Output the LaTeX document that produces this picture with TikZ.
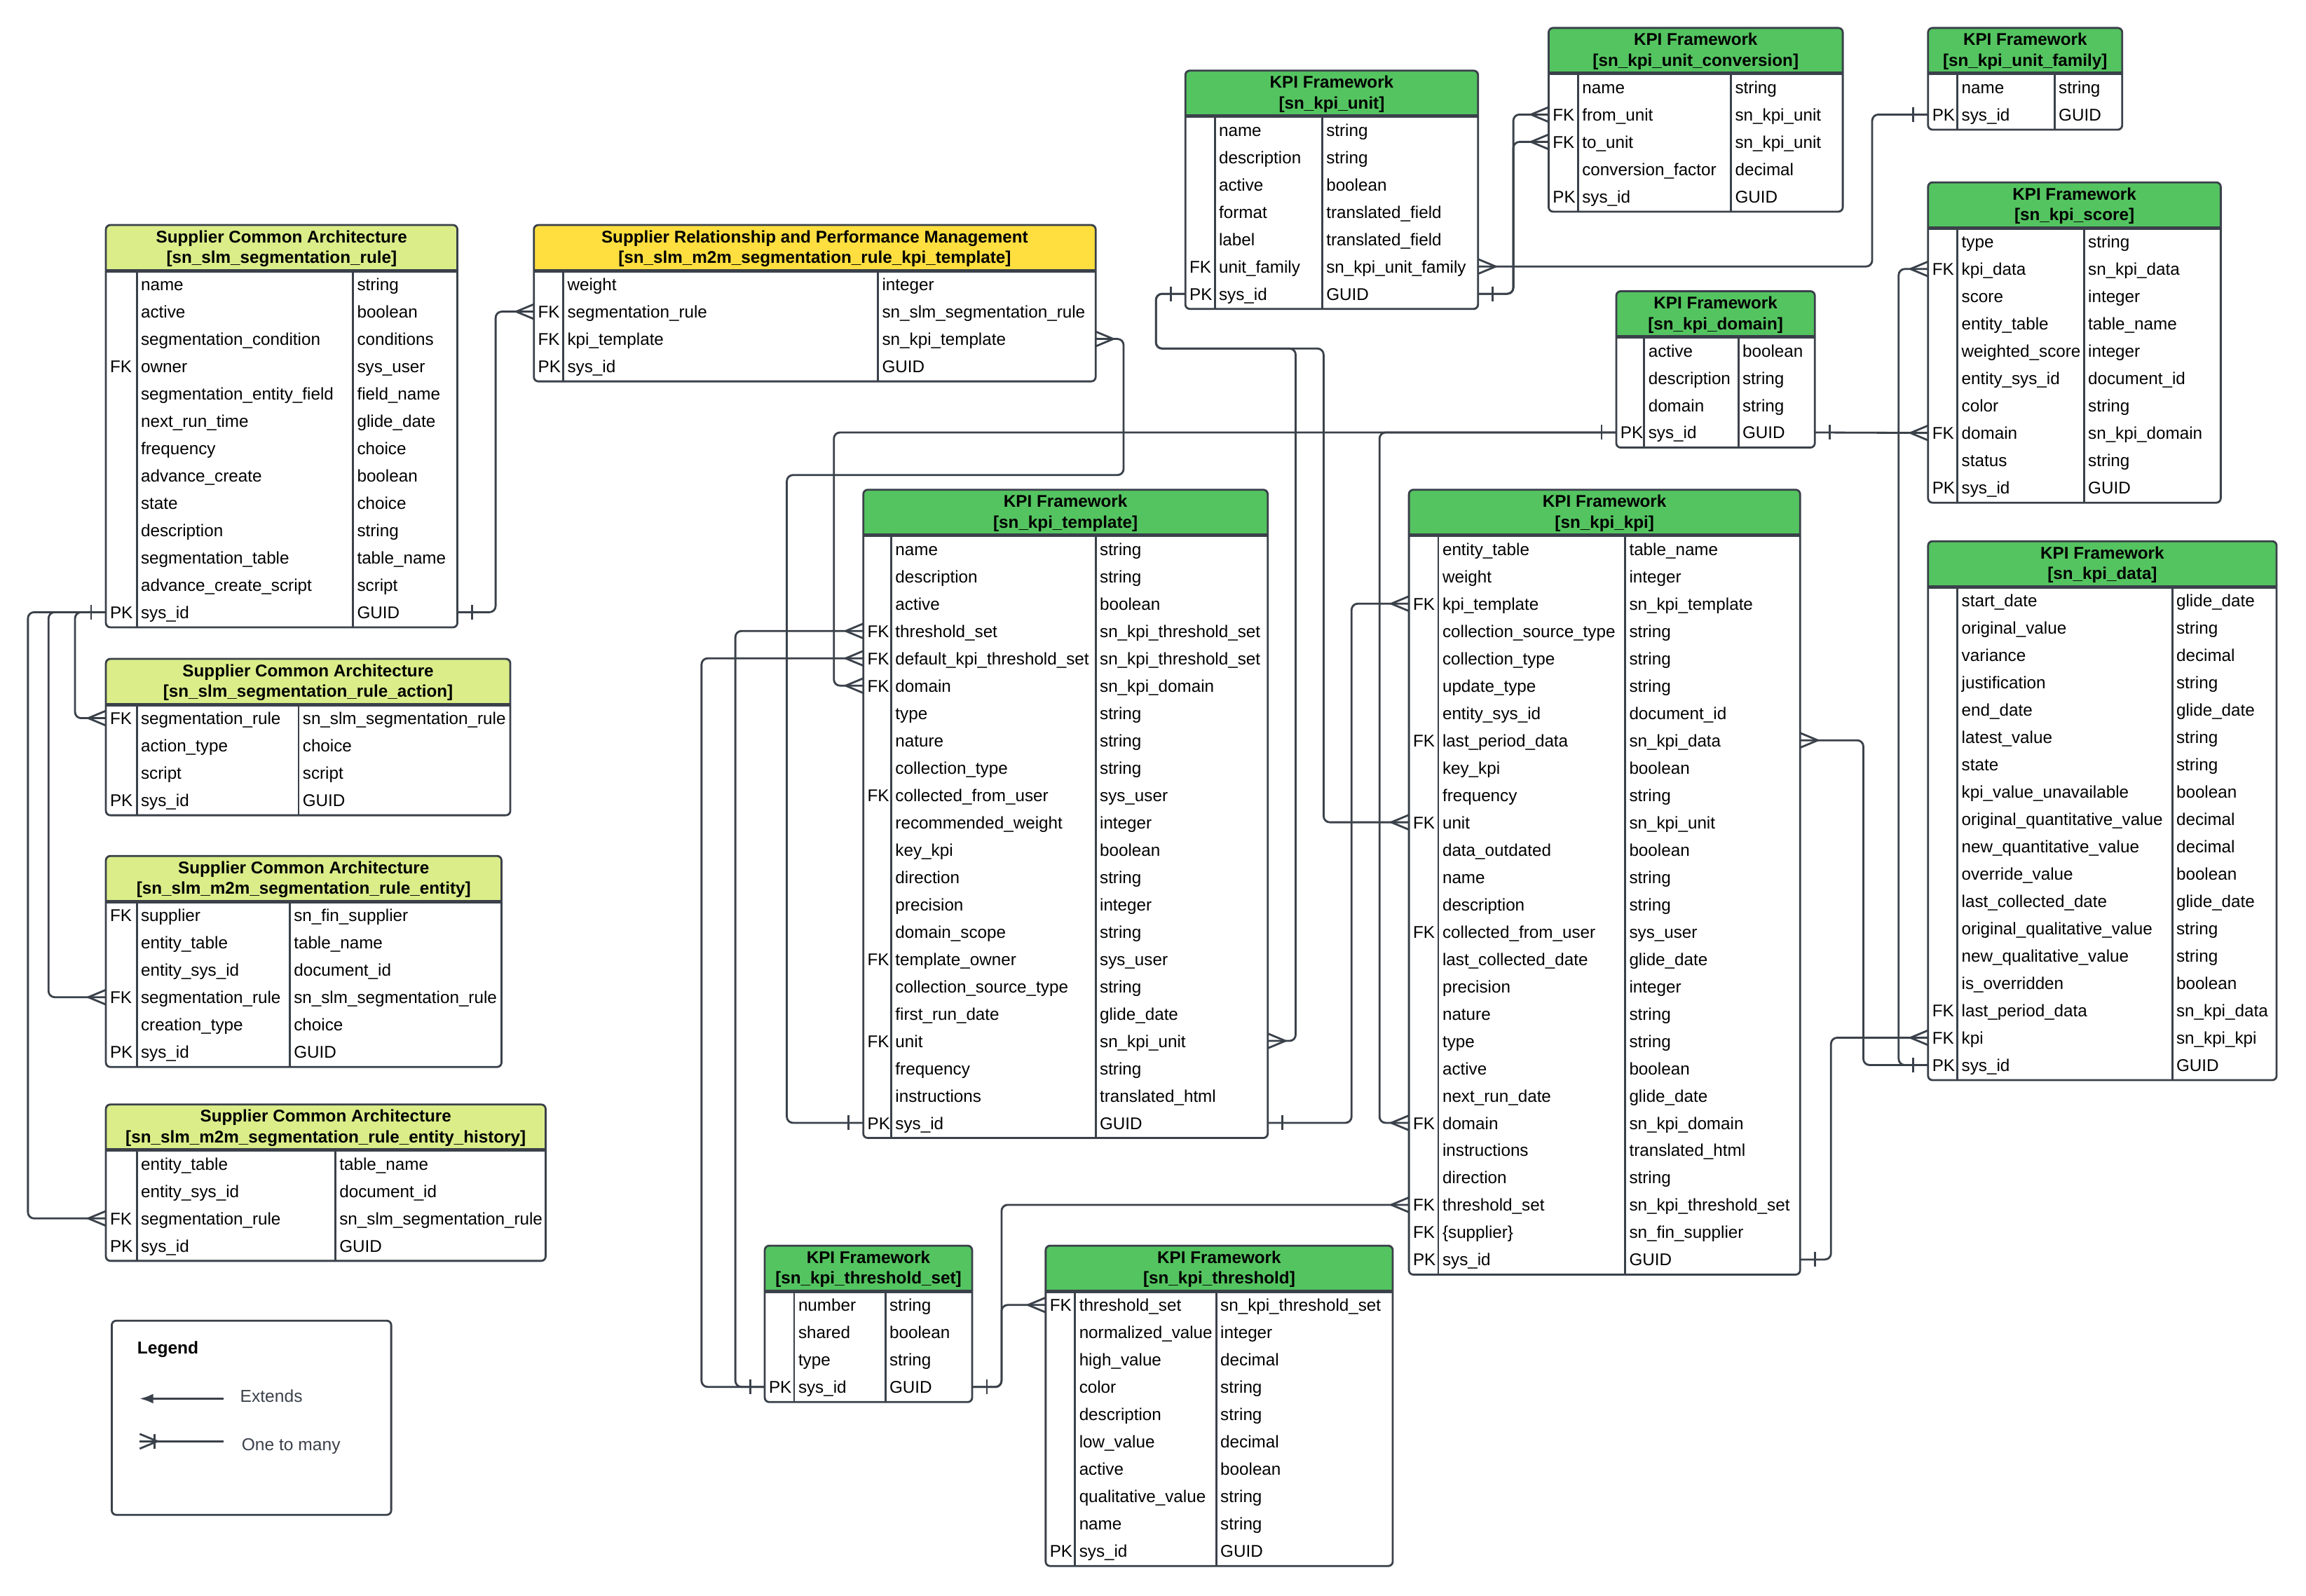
\documentclass[tikz,border=0pt]{standalone}
\usepackage{fontspec}
\setmainfont{Liberation Sans}
\usepackage{tikz}
\usetikzlibrary{arrows.meta, positioning, calc}
\definecolor{mygreen}{RGB}{84,196,96}
\definecolor{mylime}{RGB}{219,237,137}
\definecolor{myyellow}{RGB}{255,223,64}
\definecolor{mydark}{RGB}{58,65,74}
\tikzset{
  tabline/.style={draw=mydark, line width=0.8pt},
  conn/.style={draw=mydark, line width=0.8pt, rounded corners=2.5pt},
  tipline/.style={draw=mydark, line width=0.8pt},
  celltxt/.style={anchor=base west, inner sep=0pt, font=\fontsize{6.9pt}{8.4pt}\selectfont},
  hdrtxt/.style={align=center, inner sep=0pt, font=\fontsize{6.9pt}{8.4pt}\selectfont\bfseries},
  legtxt/.style={anchor=base west, inner sep=0pt, text=mydark, font=\fontsize{7pt}{8.4pt}\selectfont},
  one west/.pic={\draw[tipline] (-10,-5) -- (-10,5);},
  one east/.pic={\draw[tipline] (10,-5) -- (10,5);},
  many west/.pic={\draw[tipline] (0,-5) -- (-12,0) -- (0,5);},
  many east/.pic={\draw[tipline] (0,-5) -- (12,0) -- (0,5);}
}
\newcommand{\kpihdr}[1]{KPI Framework\\{}[#1]}
\newcommand{\scahdr}[1]{Supplier Common Architecture\\{}[#1]}
% #1 name, #2 left, #3 top, #4 right, #5 key rule, #6 type rule, #7 header colour, #8 title, #9 rows
\newcommand{\ertable}[9]{%
  \foreach \keyv/\fieldv/\typev [count=\i] in {#9}{\xdef\ernrows{\i}}
  \pgfmathsetmacro{\erbot}{#3+31+18.58*\ernrows+1}
  \fill[white, rounded corners=1.8pt] (#2,#3) rectangle (#4,\erbot);
  \fill[#7, rounded corners=1.8pt] (#2,#3) rectangle (#4,{#3+31});
  \node[hdrtxt] (#1-hdr) at ({(#2+#4)/2},{#3+16}) {#8};
  \foreach \keyv/\fieldv/\typev [count=\i] in {#9}{
    \pgfmathsetmacro{\ery}{#3+40.3+18.58*(\i-1)}
    \coordinate (#1-\i-w) at (#2,\ery);
    \coordinate (#1-\i-e) at (#4,\ery);
    \node[celltxt] (#1-\i-key) at (#2+2.5,\ery+4.3) {\keyv};
    \node[celltxt] (#1-\i-name) at (#5+2.5,\ery+4.3) {\fieldv};
    \node[celltxt] (#1-\i-type) at (#6+2.5,\ery+4.3) {\typev};
  }
  \draw[tabline] (#5,{#3+31}) -- (#5,\erbot) (#6,{#3+31}) -- (#6,\erbot);
  \draw[tabline, line width=1.4pt] (#2,{#3+31}) -- (#4,{#3+31});
  \draw[tabline, rounded corners=1.8pt] (#2,#3) rectangle (#4,\erbot);
}

\begin{document}
\begin{tikzpicture}[x=0.021cm, y=-0.021cm]
  \useasboundingbox (0,0) rectangle (1568,1085);

  % supplier side
  \ertable{segrule}{72}{153}{311}{93}{240}{mylime}{\scahdr{sn\_slm\_segmentation\_rule}}{
    /name/string, /active/boolean, /segmentation\_condition/conditions,
    FK/owner/sys\_user, /segmentation\_entity\_field/field\_name,
    /next\_run\_time/glide\_date, /frequency/choice, /advance\_create/boolean,
    /state/choice, /description/string, /segmentation\_table/table\_name,
    /advance\_create\_script/script, PK/sys\_id/GUID}
  \ertable{srkpi}{363}{153}{745}{383}{597}{myyellow}{Supplier Relationship and Performance Management\\{}[sn\_slm\_m2m\_segmentation\_rule\_kpi\_template]}{
    /weight/integer, FK/segmentation\_rule/sn\_slm\_segmentation\_rule,
    FK/kpi\_template/sn\_kpi\_template, PK/sys\_id/GUID}
  \ertable{ruleact}{72}{448}{347}{93}{203}{mylime}{\scahdr{sn\_slm\_segmentation\_rule\_action}}{
    FK/segmentation\_rule/sn\_slm\_segmentation\_rule, /action\_type/choice,
    /script/script, PK/sys\_id/GUID}
  \ertable{ruleent}{72}{582}{341}{93}{197}{mylime}{\scahdr{sn\_slm\_m2m\_segmentation\_rule\_entity}}{
    FK/supplier/sn\_fin\_supplier, /entity\_table/table\_name,
    /entity\_sys\_id/document\_id, FK/segmentation\_rule/sn\_slm\_segmentation\_rule,
    /creation\_type/choice, PK/sys\_id/GUID}
  \ertable{enthist}{72}{751}{371}{93}{228}{mylime}{\scahdr{sn\_slm\_m2m\_segmentation\_rule\_entity\_history}}{
    /entity\_table/table\_name, /entity\_sys\_id/document\_id,
    FK/segmentation\_rule/sn\_slm\_segmentation\_rule, PK/sys\_id/GUID}

  % kpi framework
  \ertable{unit}{806}{48}{1005}{826}{899}{mygreen}{\kpihdr{sn\_kpi\_unit}}{
    /name/string, /description/string, /active/boolean, /format/translated\_field,
    /label/translated\_field, FK/unit\_family/sn\_kpi\_unit\_family, PK/sys\_id/GUID}
  \ertable{unitconv}{1053}{19}{1253}{1073}{1177}{mygreen}{\kpihdr{sn\_kpi\_unit\_conversion}}{
    /name/string, FK/from\_unit/sn\_kpi\_unit, FK/to\_unit/sn\_kpi\_unit,
    /conversion\_factor/decimal, PK/sys\_id/GUID}
  \ertable{unitfam}{1311}{19}{1443}{1331}{1397}{mygreen}{\kpihdr{sn\_kpi\_unit\_family}}{
    /name/string, PK/sys\_id/GUID}
  \ertable{score}{1311}{124}{1510}{1331}{1417}{mygreen}{\kpihdr{sn\_kpi\_score}}{
    /type/string, FK/kpi\_data/sn\_kpi\_data, /score/integer, /entity\_table/table\_name,
    /weighted\_score/integer, /entity\_sys\_id/document\_id, /color/string,
    FK/domain/sn\_kpi\_domain, /status/string, PK/sys\_id/GUID}
  \ertable{domain}{1099}{198}{1234}{1118}{1182}{mygreen}{\kpihdr{sn\_kpi\_domain}}{
    /active/boolean, /description/string, /domain/string, PK/sys\_id/GUID}
  \ertable{tmpl}{587}{333}{862}{606}{745}{mygreen}{\kpihdr{sn\_kpi\_template}}{
    /name/string, /description/string, /active/boolean,
    FK/threshold\_set/sn\_kpi\_threshold\_set,
    FK/default\_kpi\_threshold\_set/sn\_kpi\_threshold\_set,
    FK/domain/sn\_kpi\_domain, /type/string, /nature/string, /collection\_type/string,
    FK/collected\_from\_user/sys\_user, /recommended\_weight/integer, /key\_kpi/boolean,
    /direction/string, /precision/integer, /domain\_scope/string,
    FK/template\_owner/sys\_user, /collection\_source\_type/string,
    /first\_run\_date/glide\_date, FK/unit/sn\_kpi\_unit, /frequency/string,
    /instructions/translated\_html, PK/sys\_id/GUID}
  \ertable{kpi}{958}{333}{1224}{978}{1105}{mygreen}{\kpihdr{sn\_kpi\_kpi}}{
    /entity\_table/table\_name, /weight/integer, FK/kpi\_template/sn\_kpi\_template,
    /collection\_source\_type/string, /collection\_type/string, /update\_type/string,
    /entity\_sys\_id/document\_id, FK/last\_period\_data/sn\_kpi\_data, /key\_kpi/boolean,
    /frequency/string, FK/unit/sn\_kpi\_unit, /data\_outdated/boolean, /name/string,
    /description/string, FK/collected\_from\_user/sys\_user,
    /last\_collected\_date/glide\_date, /precision/integer, /nature/string, /type/string,
    /active/boolean, /next\_run\_date/glide\_date, FK/domain/sn\_kpi\_domain,
    /instructions/translated\_html, /direction/string,
    FK/threshold\_set/sn\_kpi\_threshold\_set, FK/\{supplier\}/sn\_fin\_supplier,
    PK/sys\_id/GUID}
  \ertable{kdata}{1311}{368}{1548}{1331}{1477}{mygreen}{\kpihdr{sn\_kpi\_data}}{
    /start\_date/glide\_date, /original\_value/string, /variance/decimal,
    /justification/string, /end\_date/glide\_date, /latest\_value/string, /state/string,
    /kpi\_value\_unavailable/boolean, /original\_quantitative\_value/decimal,
    /new\_quantitative\_value/decimal, /override\_value/boolean,
    /last\_collected\_date/glide\_date, /original\_qualitative\_value/string,
    /new\_qualitative\_value/string, /is\_overridden/boolean,
    FK/last\_period\_data/sn\_kpi\_data, FK/kpi/sn\_kpi\_kpi, PK/sys\_id/GUID}
  \ertable{thset}{520}{847}{661}{540}{602}{mygreen}{\kpihdr{sn\_kpi\_threshold\_set}}{
    /number/string, /shared/boolean, /type/string, PK/sys\_id/GUID}
  \ertable{thr}{711}{847}{947}{731}{827}{mygreen}{\kpihdr{sn\_kpi\_threshold}}{
    FK/threshold\_set/sn\_kpi\_threshold\_set, /normalized\_value/integer,
    /high\_value/decimal, /color/string, /description/string, /low\_value/decimal,
    /active/boolean, /qualitative\_value/string, /name/string, PK/sys\_id/GUID}

  % relations
  \draw[conn] (segrule-13-e) -- ++(26,0) |- (srkpi-2-w);
  \draw[conn] (segrule-13-w) -- ++(-21,0) |- (ruleact-1-w);
  \draw[conn] (segrule-13-w) -- ++(-39,0) |- (ruleent-4-w);
  \draw[conn] (segrule-13-w) -- ++(-53,0) |- (enthist-3-w);
  \draw[conn] (srkpi-3-e) -| (764,323) -| ($(tmpl-22-w)+(-52,0)$) -- (tmpl-22-w);
  \draw[conn] (tmpl-22-e) -- ++(57,0) |- (kpi-3-w);
  \draw[conn] (unit-7-w) -| (786,237) -| ($(tmpl-19-e)+(19,0)$) -- (tmpl-19-e);
  \draw[conn] (unit-7-w) -| (786,237) -| ($(kpi-11-w)+(-58,0)$) -- (kpi-11-w);
  \draw[conn] (unit-7-e) -- ++(24,0) |- (unitconv-2-w);
  \draw[conn] (unit-7-e) -- ++(24,0) |- (unitconv-3-w);
  \draw[conn] (unit-6-e) -- ++(268,0) |- (unitfam-2-w);
  \draw[conn] (domain-4-w) -| ($(tmpl-6-w)+(-20,0)$) -- (tmpl-6-w);
  \draw[conn] (domain-4-w) -| ($(kpi-22-w)+(-20,0)$) -- (kpi-22-w);
  \draw[conn] (domain-4-e) -- (score-8-w);
  \draw[conn] (thset-4-w) -- ++(-20,0) |- (tmpl-4-w);
  \draw[conn] (thset-4-w) -- ++(-43,0) |- (tmpl-5-w);
  \draw[conn] (thset-4-e) -- ++(20,0) |- (thr-1-w);
  \draw[conn] (thset-4-e) -- ++(20,0) |- (kpi-25-w);
  \draw[conn] (kdata-18-w) -- ++(-44,0) |- (kpi-8-e);
  \draw[conn] (kdata-18-w) -- ++(-20,0) |- (score-2-w);
  \draw[conn] (kpi-27-e) -- ++(21,0) |- (kdata-17-w);

  \foreach \p in {segrule-13-w, tmpl-22-w, unit-7-w, unitfam-2-w, domain-4-w, thset-4-w, kdata-18-w}
    \pic at (\p) {one west};
  \foreach \p in {segrule-13-e, tmpl-22-e, unit-7-e, domain-4-e, thset-4-e, kpi-27-e}
    \pic at (\p) {one east};
  \foreach \p in {srkpi-2-w, ruleact-1-w, ruleent-4-w, enthist-3-w, kpi-3-w, kpi-11-w,
      unitconv-2-w, unitconv-3-w, tmpl-6-w, kpi-22-w, score-8-w, tmpl-4-w, tmpl-5-w,
      thr-1-w, kpi-25-w, score-2-w, kdata-17-w}
    \pic at (\p) {many west};
  \foreach \p in {srkpi-3-e, tmpl-19-e, unit-6-e, kpi-8-e}
    \pic at (\p) {many east};

  % legend
  \draw[tabline, rounded corners=1.8pt] (76,898) rectangle (266,1030);
  \node[celltxt, font=\fontsize{7pt}{8.4pt}\selectfont\bfseries] (legend) at (93,920.5) {Legend};
  \coordinate (ext-a) at (152,951);
  \coordinate (ext-b) at (95,951);
  \draw[tipline, -{Latex[length=5.5pt,width=4pt]}] (ext-a) -- (ext-b);
  \node[legtxt] (ext-lbl) at (163,953.5) {Extends};
  \coordinate (otm-a) at (152,980);
  \coordinate (otm-b) at (95,980);
  \draw[tipline] (otm-a) -- (otm-b);
  \pic at (otm-b) {many east};
  \pic at (otm-b) {one east};
  \node[legtxt] (otm-lbl) at (164,986.5) {One to many};
\end{tikzpicture}
\end{document}
